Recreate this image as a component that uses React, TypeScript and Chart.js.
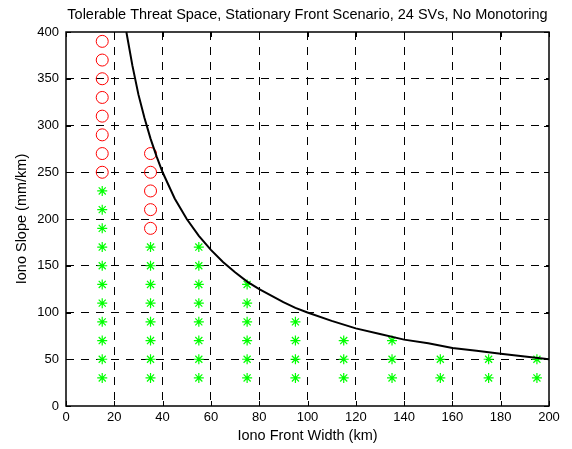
import React, { useEffect, useRef } from "react";
import { Chart, registerables } from "chart.js";

Chart.register(...registerables);

const titleText = "Tolerable Threat Space, Stationary Front Scenario, 24 SVs, No Monotoring";
const xLabel = "Iono Front Width (km)";
const yLabel = "Iono Slope (mm/km)";

// Red circles (unsafe points): column x and y values
const circleCols = [15, 35];
const circleYs = [
  [250, 270, 290, 310, 330, 350, 370, 390],
  [190, 210, 230, 250, 270],
];

// Green stars (tolerable points): column x and y values
const starCols = [15, 35, 55, 75, 95, 115, 135, 155, 175, 195];
const starYs = [
  [30, 50, 70, 90, 110, 130, 150, 170, 190, 210, 230],
  [30, 50, 70, 90, 110, 130, 150, 170],
  [30, 50, 70, 90, 110, 130, 150, 170],
  [30, 50, 70, 90, 110, 130],
  [30, 50, 70, 90],
  [30, 50, 70],
  [30, 50, 70],
  [30, 50],
  [30, 50],
  [30, 50],
];

// Boundary curve
const curveX = [25, 27.5, 30, 32.5, 35, 37.5, 40, 45, 50, 55, 60, 65, 70, 75, 80, 85, 90, 95, 100, 110, 120, 130, 140, 150, 160, 170, 180, 190, 200];
const curveY = [400, 364, 333, 308, 286, 267, 250, 222, 200, 182, 167, 154, 143, 133, 125, 118, 111, 105, 100, 91, 83, 77, 71, 67, 62, 59, 56, 53, 50];

const FONT = "'Liberation Sans', Arial, Helvetica, sans-serif";

export default function App() {
  const ref = useRef<HTMLCanvasElement | null>(null);

  useEffect(() => {
    document.body.style.margin = "0";
    const canvas = ref.current;
    if (!canvas) return;

    const circles: { x: number; y: number }[] = [];
    circleCols.forEach((cx, i) => circleYs[i].forEach((y) => circles.push({ x: cx, y })));
    const stars: { x: number; y: number }[] = [];
    starCols.forEach((cx, i) => starYs[i].forEach((y) => stars.push({ x: cx, y })));
    const curve = curveX.map((x, i) => ({ x, y: curveY[i] }));

    const framePlugin = {
      id: "frame",
      afterDraw(chart: any) {
        const { ctx, chartArea } = chart;
        const { left, right, top, bottom } = chartArea;
        const xs = chart.scales.x;
        const ys = chart.scales.y;
        ctx.save();
        ctx.strokeStyle = "#000";
        ctx.lineWidth = 1;
        ctx.setLineDash([]);
        // inward ticks
        const tl = 5;
        ctx.beginPath();
        for (let v = 0; v <= 200; v += 20) {
          const px = Math.round(xs.getPixelForValue(v)) + 0.5;
          ctx.moveTo(px, bottom);
          ctx.lineTo(px, bottom - tl);
          ctx.moveTo(px, top);
          ctx.lineTo(px, top + tl);
        }
        for (let v = 0; v <= 400; v += 50) {
          const py = Math.round(ys.getPixelForValue(v)) + 0.5;
          ctx.moveTo(left, py);
          ctx.lineTo(left + tl, py);
          ctx.moveTo(right, py);
          ctx.lineTo(right - tl, py);
        }
        ctx.stroke();
        // box
        ctx.lineWidth = 1.5;
        ctx.strokeRect(left, top, right - left, bottom - top);
        // texts
        ctx.fillStyle = "#000";
        ctx.font = `14.5px ${FONT}`;
        ctx.textAlign = "center";
        ctx.textBaseline = "middle";
        ctx.fillText(titleText, (left + right) / 2, 15);
        ctx.fillText(xLabel, (left + right) / 2, 436);
        ctx.translate(22, (top + bottom) / 2);
        ctx.rotate(-Math.PI / 2);
        ctx.fillText(yLabel, 0, 0);
        ctx.restore();
      },
    };

    const chart = new Chart(canvas, {
      type: "scatter",
      data: {
        datasets: [
          {
            label: "boundary",
            data: curve,
            showLine: true,
            borderColor: "#000",
            borderWidth: 2,
            pointRadius: 0,
            fill: false,
          } as any,
          {
            label: "unsafe",
            data: circles,
            pointStyle: "circle",
            pointRadius: 6,
            borderColor: "#ff0000",
            backgroundColor: "rgba(0,0,0,0)",
            borderWidth: 1,
          },
          {
            label: "tolerable",
            data: stars,
            pointStyle: "star",
            pointRadius: 5,
            borderColor: "#00ff00",
            backgroundColor: "#00ff00",
            borderWidth: 1.2,
          },
        ],
      },
      options: {
        animation: false,
        responsive: false,
        events: [],
        layout: { padding: { left: 0, right: 23, top: 32, bottom: 0 } },
        plugins: {
          legend: { display: false },
          tooltip: { enabled: false },
          title: { display: false },
        },
        scales: {
          x: {
            type: "linear",
            min: 0,
            max: 200,
            afterFit: (s: any) => {
              s.height = 43;
            },
            ticks: {
              stepSize: 20,
              color: "#000",
              font: { size: 13, family: FONT },
              padding: 4,
              maxRotation: 0,
            },
            grid: {
              color: (c: any) => (c.tick && (c.tick.value === 0 || c.tick.value === 200) ? "rgba(0,0,0,0)" : "#000"),
              drawTicks: false,
              lineWidth: 1,
            },
            border: { display: false, dash: [8, 7] },
          },
          y: {
            type: "linear",
            min: 0,
            max: 400,
            afterFit: (s: any) => {
              s.width = 66;
            },
            ticks: {
              stepSize: 50,
              color: "#000",
              font: { size: 13, family: FONT },
              padding: 7,
            },
            grid: {
              color: (c: any) => (c.tick && (c.tick.value === 0 || c.tick.value === 400) ? "rgba(0,0,0,0)" : "#000"),
              drawTicks: false,
              lineWidth: 1,
            },
            border: { display: false, dash: [8, 7] },
          },
        },
      } as any,
      plugins: [framePlugin],
    });

    return () => chart.destroy();
  }, []);

  return (
    <div style={{ width: 572, height: 449, background: "#fff" }}>
      <canvas ref={ref} width={572} height={449} style={{ display: "block" }} />
    </div>
  );
}
